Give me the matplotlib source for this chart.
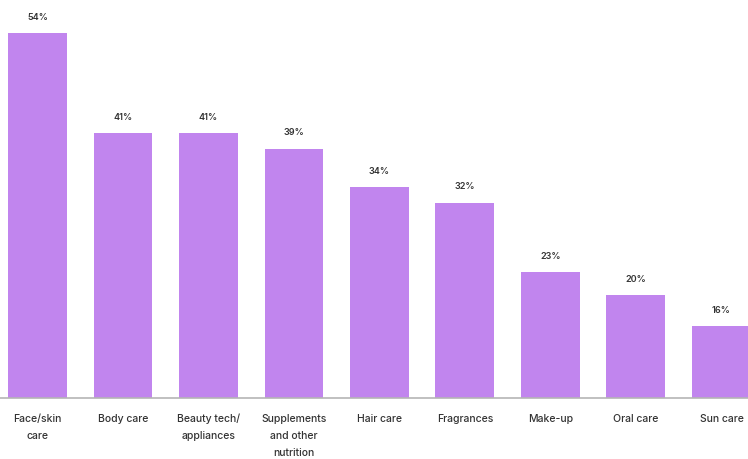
import matplotlib.pyplot as plt
import numpy as np

# Data
categories = ['Face/skin\ncare', 'Body care', 'Beauty tech/\nappliances', 'Supplements\nand other\nnutrition',
              'Hair care', 'Fragrances', 'Make-up', 'Oral care', 'Sun care']
shares = [54, 41, 41, 39, 34, 32, 23, 20, 16]

plt.rcParams['font.family'] = ['Inter', 'DejaVu Sans']

fig = plt.figure(figsize=(7.48, 4.59), dpi=100)
ax = fig.add_axes([0, 61 / 459, 1, 398 / 459])

x = np.arange(len(categories))
bars = ax.bar(x, shares, width=0.69, color='#c185ee', zorder=2)

ax.set_xlim(-0.4386, 8.31)
# the original chart does not start its bars at zero
ax.set_ylim(6.7, 58.3)

for rect, v in zip(bars, shares):
    ax.annotate(f'{v}%', xy=(rect.get_x() + rect.get_width() / 2, v),
                xytext=(0, 11.5), textcoords='offset points',
                ha='center', va='center', fontsize=6.5, fontweight='semibold', color='#333333')

ax.set_xticks(x)
ax.set_xticklabels(categories, fontsize=7.5, color='#333333', linespacing=1.85, fontweight='medium')
ax.tick_params(axis='x', length=0, pad=11.5)
ax.set_yticks([])
for side in ['top', 'left', 'right']:
    ax.spines[side].set_visible(False)
ax.spines['bottom'].set_color('#b5b5b5')
ax.spines['bottom'].set_linewidth(1.2)

fig.savefig('out.png', dpi=100)
